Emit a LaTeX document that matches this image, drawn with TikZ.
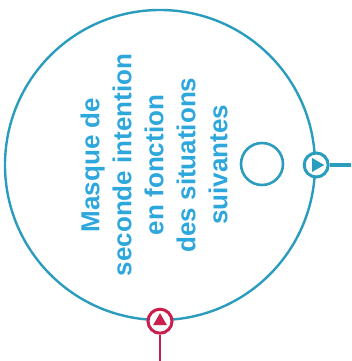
\documentclass[tikz,border=0pt]{standalone}
\usepackage{fontspec}
\setmainfont{Liberation Sans}
\usetikzlibrary{positioning,shapes.geometric}
\definecolor{mkblue}{HTML}{2A9CBE}
\definecolor{mktext}{HTML}{2DA7DC}
\definecolor{mkred}{HTML}{C91F4F}

\begin{document}
\begin{tikzpicture}[x=1pt,y=1pt,
  marker/.style={circle, draw=#1, line width=3pt, fill=white, minimum size=24pt, inner sep=0pt},
  tipmark/.style={regular polygon, regular polygon sides=3, fill=#1, inner sep=0pt, minimum size=16pt}]
  \useasboundingbox (0,0) rectangle (351,361);
  \node[circle, draw=mkblue, line width=2.4pt, minimum size=310pt, inner sep=0pt] (main) at (160,196) {};
  \node[rotate=90, align=center, text=mktext, font=\fontsize{26}{32}\selectfont\bfseries] (label) at (154,196)
    {Masque de\\seconde intention\\en fonction\\des situations\\suivantes};
  \node[circle, draw=mkblue, line width=2.6pt, minimum size=42pt, inner sep=0pt] (dial) at (262,197) {};
  % exit on the right, entry at the bottom
  \node[marker=mkblue] (outmark) at (main.east) {};
  \node[tipmark=mkblue, rotate=-90] (outtip) at (outmark) {};
  \node[marker=mkred] (inmark) at (main.south) {};
  \node[tipmark=mkred] (intip) at (inmark) {};
  \coordinate (rightend) at (351,196);
  \coordinate (downend) at (160,0);
  \draw[mkblue, line width=3.5pt] (outmark) -- (rightend);
  \draw[mkred, line width=1.8pt] (inmark) -- (downend);
\end{tikzpicture}
\end{document}
